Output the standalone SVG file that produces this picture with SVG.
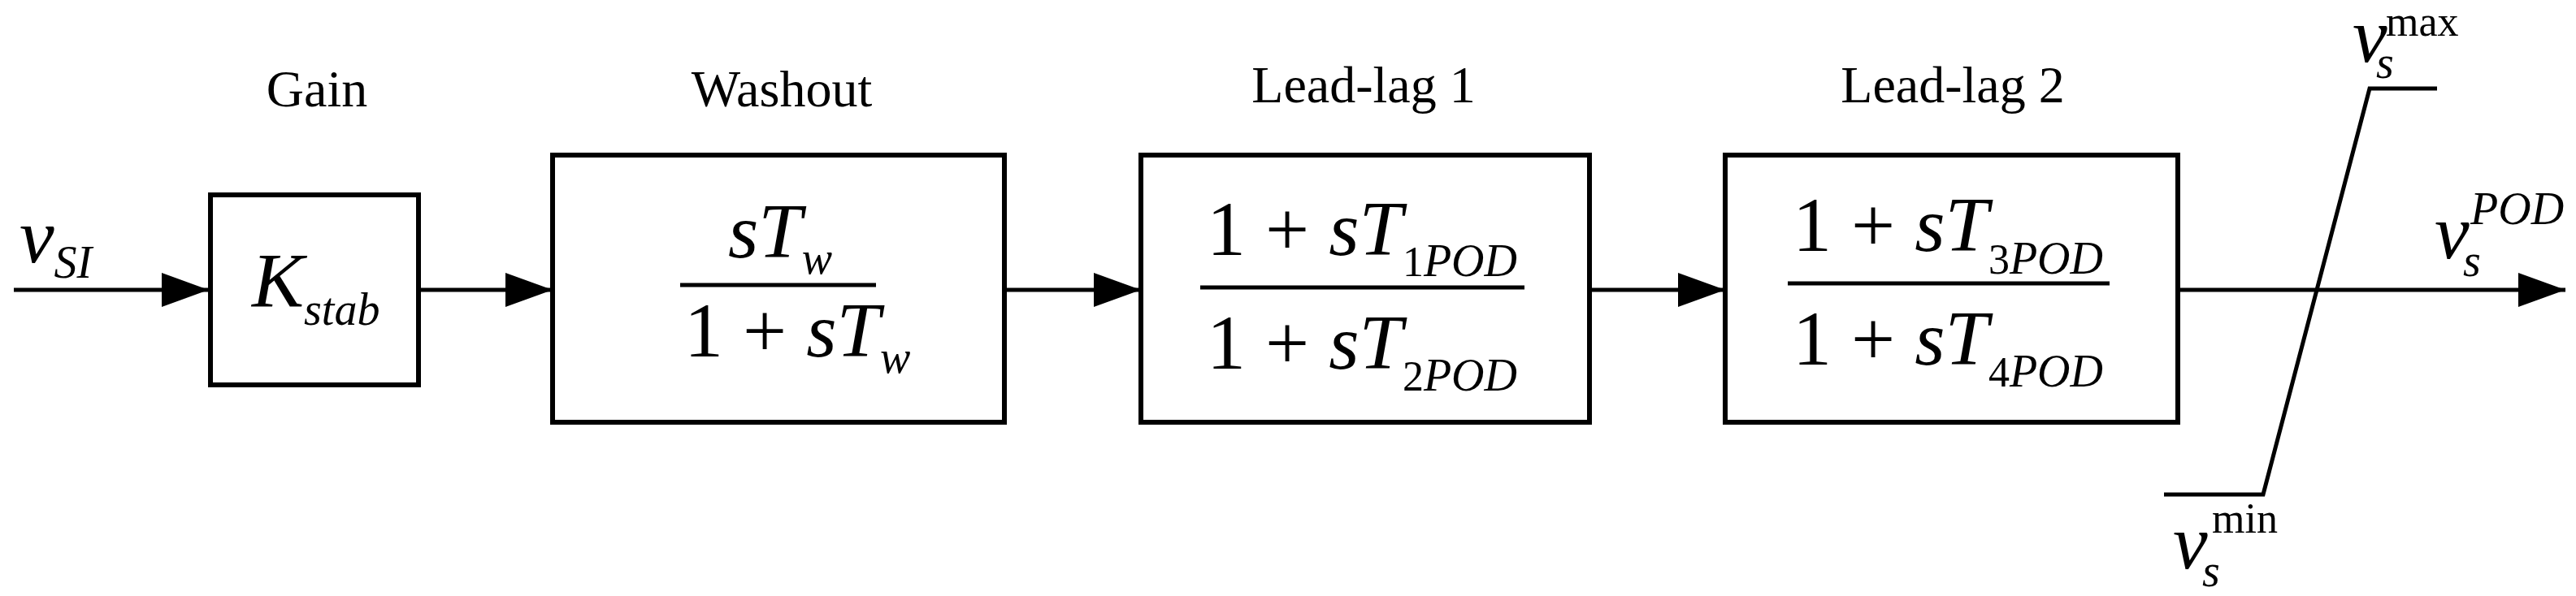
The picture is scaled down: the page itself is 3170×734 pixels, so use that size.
<svg xmlns="http://www.w3.org/2000/svg" width="3170" height="734" viewBox="0 0 3170 734">
<style>
.b{fill:none;stroke:#000;stroke-width:6}
.c{fill:none;stroke:#000;stroke-width:5}
text{font-family:"Liberation Serif","DejaVu Serif","Times New Roman",serif;fill:#000}
.lbl{font-size:64px;text-anchor:middle}
.m{font-size:96px;font-style:italic}
.n{font-size:96px}
.s{font-size:56px;font-style:italic}
.u{font-size:52px}
</style>
<defs><marker id="a" markerUnits="userSpaceOnUse" markerWidth="60" markerHeight="42" refX="58" refY="21" orient="auto"><path d="M0,0 L58,21 L0,42 Z" fill="#000"/></marker></defs>
<rect width="3170" height="734" fill="#fff"/>
<g id="connectors">
<line class="c" x1="17" y1="357" x2="257" y2="357" marker-end="url(#a)"/>
<line class="c" x1="515" y1="357" x2="680" y2="357" marker-end="url(#a)"/>
<line class="c" x1="1236" y1="357" x2="1404" y2="357" marker-end="url(#a)"/>
<line class="c" x1="1956" y1="357" x2="2123" y2="357" marker-end="url(#a)"/>
<line class="c" x1="2680" y1="357" x2="3157" y2="357" marker-end="url(#a)"/>
</g>
<g id="input"><text class="m" x="24" y="323">v<tspan class="s" dy="19">SI</tspan></text></g>
<g id="gain">
<text class="lbl" x="390" y="131">Gain</text>
<rect class="b" x="259" y="240" width="256" height="234"/>
<text class="m" x="310" y="378">K<tspan class="s" dy="22">stab</tspan></text>
</g>
<g id="washout">
<text class="lbl" x="962" y="131">Washout</text>
<rect class="b" x="680" y="191" width="556" height="329"/>
<line class="c" x1="837" y1="351" x2="1078" y2="351"/>
<text class="m" x="896" y="317">sT<tspan class="s" dy="20">w</tspan></text>
<text class="n" x="842" y="439">1 + <tspan font-style="italic">sT</tspan><tspan class="s" dy="20">w</tspan></text>
</g>
<g id="leadlag1">
<text class="lbl" x="1678" y="126">Lead-lag 1</text>
<rect class="b" x="1404" y="191" width="552" height="329"/>
<line class="c" x1="1477" y1="354" x2="1876" y2="354"/>
<text class="n" x="1485" y="314">1 + <tspan font-style="italic">sT</tspan><tspan class="u" dy="26">1</tspan><tspan class="s">POD</tspan></text>
<text class="n" x="1485" y="454">1 + <tspan font-style="italic">sT</tspan><tspan class="u" dy="27">2</tspan><tspan class="s">POD</tspan></text>
</g>
<g id="leadlag2">
<text class="lbl" x="2403" y="126">Lead-lag 2</text>
<rect class="b" x="2123" y="191" width="557" height="329"/>
<line class="c" x1="2200" y1="349" x2="2596" y2="349"/>
<text class="n" x="2206" y="309">1 + <tspan font-style="italic">sT</tspan><tspan class="u" dy="28">3</tspan><tspan class="s">POD</tspan></text>
<text class="n" x="2206" y="449">1 + <tspan font-style="italic">sT</tspan><tspan class="u" dy="27">4</tspan><tspan class="s">POD</tspan></text>
</g>
<g id="limiter">
<polyline class="c" points="2663,609 2785,609 2916,109 2999,109"/>
<text class="m" x="2895" y="76">v</text><text class="s" x="2924" y="96">s</text><text class="u" x="2936" y="44">max</text>
<text class="m" x="2674" y="700">v</text><text class="s" x="2710" y="722">s</text><text class="u" x="2722" y="656">min</text>
</g>
<g id="output"><text class="m" x="2996" y="318">v</text><text class="s" x="3031" y="340">s</text><text class="s" x="3040" y="276">POD</text></g>
</svg>
